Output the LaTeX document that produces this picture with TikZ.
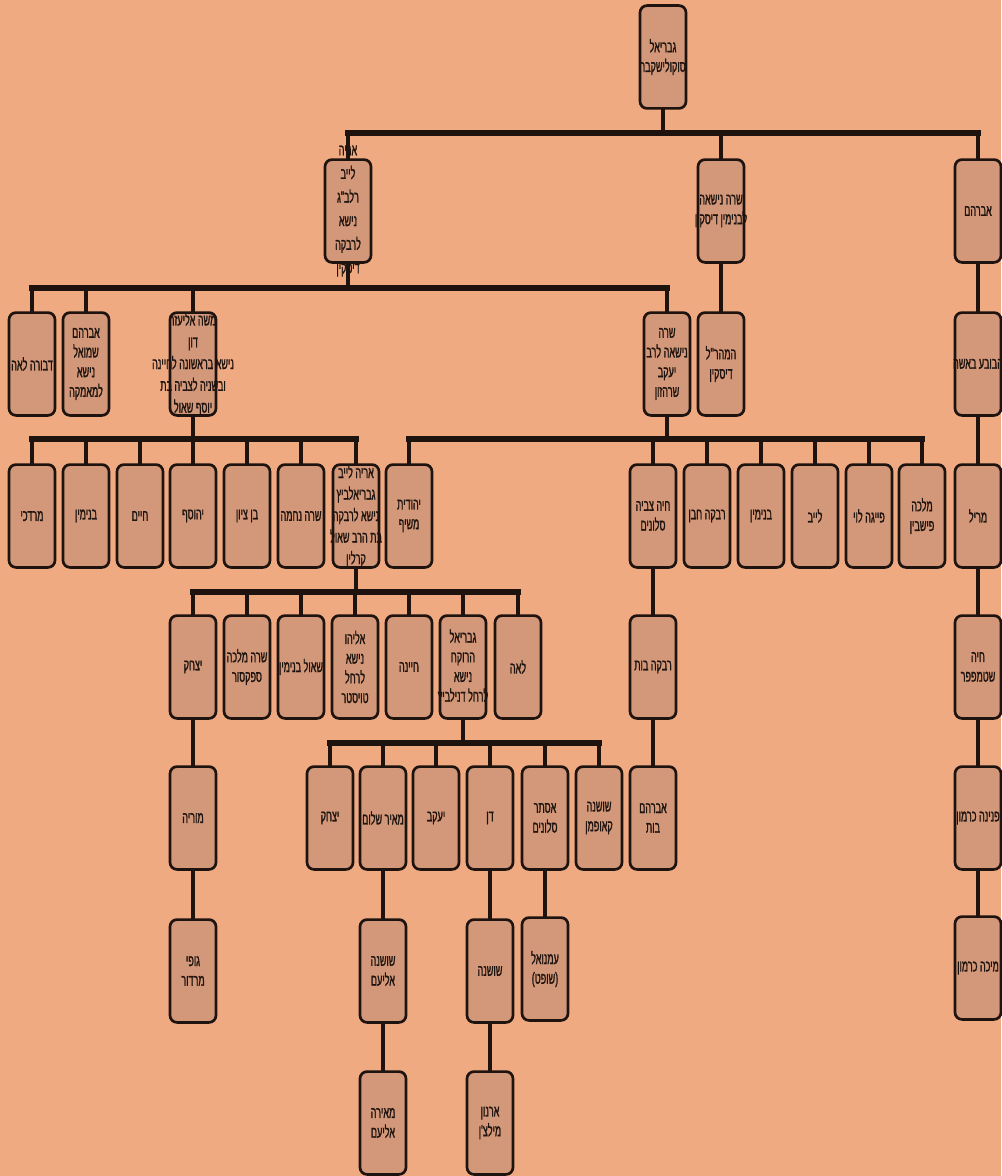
\documentclass[tikz,border=0pt]{standalone}
\usepackage{fontspec}
\usetikzlibrary{backgrounds}
\newfontfamily\hebfont[Script=Hebrew,FakeStretch=0.56,FakeBold=1.3]{Liberation Sans}
\TeXXeTstate=1
\definecolor{paper}{RGB}{239,170,130}
\definecolor{boxfill}{RGB}{210,152,121}
\definecolor{ink}{RGB}{30,19,14}
\tikzset{
  box/.style={draw=ink, line width=1.9pt, rounded corners=5pt, fill=boxfill,
    minimum width=1.15cm, minimum height=2.57cm, inner sep=0pt},
  txt/.style={font=\hebfont\fontsize{11.5}{14}\selectfont, text=ink,
    align=center, inner sep=0pt},
  txtwide/.style={txt, font=\hebfont\fontsize{11.5}{16.8}\selectfont},
  bus/.style={draw=ink, line width=4.2pt, line cap=rect},
  stem/.style={draw=ink, line width=2.8pt, line cap=rect},
}

\begin{document}
\begin{tikzpicture}[x=0.025cm, y=-0.025cm]
  \begin{scope}[on background layer]
    \fill[paper] (0,0) rectangle (1001,1176);
  \end{scope}
  \useasboundingbox (0,0) rectangle (1001,1176);

  % generation 0 and 1
  \node[box, label={[txt]center:{\beginR גבריאל\endR\\\beginR סוקולישקבר\endR}}] (root) at (663,57) {};
  \node[box, label={[txtwide]center:{\beginR אריה\endR\\\beginR לייב\endR\\\beginR רלב"ג\endR\\\beginR נישא\endR\\\beginR לרבקה\endR\\\beginR דיסקין\endR}}] (aryeh) at (348,211) {};
  \node[box, label={[txt]center:{\beginR שרה נישאה\endR\\\beginR לבנימין דיסקין\endR}}] (sarahD) at (721,211) {};
  \node[box, label={[txt]center:{\beginR אברהם\endR}}] (avr) at (978,211) {};

  % generation 2
  \node[box, label={[txt]center:{\beginR דבורה לאה\endR}}] (dvora) at (32,364) {};
  \node[box, label={[txt]center:{\beginR אברהם\endR\\\beginR שמואל\endR\\\beginR נישא\endR\\\beginR למאמקה\endR}}] (avrsh) at (86,364) {};
  \node[box, label={[txt, font=\hebfont\fontsize{11.5}{15.5}\selectfont]center:{\beginR משה אליעזר\endR\\\beginR דון\endR\\\beginR נישא בראשונה לחיינה\endR\\\beginR ובשניה לצביה בת\endR\\\beginR יוסף שאול\endR}}] (moshe) at (193,364) {};
  \node[box, label={[txt]center:{\beginR שרה\endR\\\beginR נישאה לרב\endR\\\beginR יעקב\endR\\\beginR שרהזון\endR}}] (sarahS) at (667,364) {};
  \node[box, label={[txt]center:{\beginR המהר"ל\endR\\\beginR דיסקין\endR}}] (maharal) at (721,364) {};
  \node[box, label={[txt]center:{\beginR הבובע באשה\endR}}] (habuva) at (978,364) {};

  % generation 3
  \node[box, label={[txt]center:{\beginR מרדכי\endR}}] (mordechai) at (32,516) {};
  \node[box, label={[txt]center:{\beginR בנימין\endR}}] (binyamin) at (86,516) {};
  \node[box, label={[txt]center:{\beginR חיים\endR}}] (chaim) at (140,516) {};
  \node[box, label={[txt]center:{\beginR יהוסף\endR}}] (yehosef) at (193,516) {};
  \node[box, label={[txt]center:{\beginR בן ציון\endR}}] (bentzion) at (247,516) {};
  \node[box, label={[txt]center:{\beginR שרה נחמה\endR}}] (sarahN) at (301,516) {};
  \node[box, label={[txt, font=\hebfont\fontsize{11.5}{15.3}\selectfont]center:{\beginR אריה לייב\endR\\\beginR גבריאלביץ\endR\\\beginR נישא לרבקה\endR\\\beginR בת הרב שאול\endR\\\beginR קרלין\endR}}] (aryehG) at (356,516) {};
  \node[box, label={[txt]center:{\beginR יהודית\endR\\\beginR משיף\endR}}] (yehudit) at (409,516) {};
  \node[box, label={[txt]center:{\beginR חיה צביה\endR\\\beginR סלונים\endR}}] (chayaT) at (653,516) {};
  \node[box, label={[txt]center:{\beginR רבקה חבן\endR}}] (rivkaC) at (707,516) {};
  \node[box, label={[txt]center:{\beginR בנימין\endR}}] (binyaminB) at (761,516) {};
  \node[box, label={[txt]center:{\beginR לייב\endR}}] (leib) at (815,516) {};
  \node[box, label={[txt]center:{\beginR פייגה לוי\endR}}] (feiga) at (869,516) {};
  \node[box, label={[txt]center:{\beginR מלכה\endR\\\beginR פישבין\endR}}] (malka) at (922,516) {};
  \node[box, label={[txt]center:{\beginR מריל\endR}}] (miril) at (978,516) {};

  % generation 4
  \node[box, label={[txt]center:{\beginR יצחק\endR}}] (yitzchak) at (193,667) {};
  \node[box, label={[txt]center:{\beginR שרה מלכה\endR\\\beginR ספקסור\endR}}] (sarahM) at (247,667) {};
  \node[box, label={[txt]center:{\beginR שאול בנימין\endR}}] (shaul) at (301,667) {};
  \node[box, label={[txt]center:{\beginR אליהו\endR\\\beginR נישא\endR\\\beginR לרחל\endR\\\beginR טויסטר\endR}}] (eliyahu) at (355,667) {};
  \node[box, label={[txt]center:{\beginR חיינה\endR}}] (chayna) at (409,667) {};
  \node[box, label={[txt]center:{\beginR גבריאל\endR\\\beginR הרוקח\endR\\\beginR נישא\endR\\\beginR לרחל דנילביץ\endR}}] (gavrielH) at (463,667) {};
  \node[box, label={[txt]center:{\beginR לאה\endR}}] (leah) at (518,667) {};
  \node[box, label={[txt]center:{\beginR רבקה בות\endR}}] (rivkaB) at (653,667) {};
  \node[box, label={[txt]center:{\beginR חיה\endR\\\beginR שטמפפר\endR}}] (chayaS) at (978,667) {};

  % generation 5
  \node[box, label={[txt]center:{\beginR מוריה\endR}}] (moriya) at (193,818) {};
  \node[box, label={[txt]center:{\beginR יצחק\endR}}] (yitzchakB) at (330,818) {};
  \node[box, label={[txt]center:{\beginR מאיר שלום\endR}}] (meir) at (383,818) {};
  \node[box, label={[txt]center:{\beginR יעקב\endR}}] (yaakov) at (436,818) {};
  \node[box, label={[txt]center:{\beginR דן\endR}}] (dan) at (490,818) {};
  \node[box, label={[txt]center:{\beginR אסתר\endR\\\beginR סלונים\endR}}] (ester) at (545,818) {};
  \node[box, label={[txt]center:{\beginR שושנה\endR\\\beginR קאופמן\endR}}] (shoshanaK) at (599,818) {};
  \node[box, label={[txt]center:{\beginR אברהם\endR\\\beginR בות\endR}}] (avrB) at (653,818) {};
  \node[box, label={[txt]center:{\beginR פנינה כרמון\endR}}] (pnina) at (978,818) {};

  % generation 6 and 7
  \node[box, label={[txt]center:{\beginR גופי\endR\\\beginR מרדור\endR}}] (gofi) at (193,971) {};
  \node[box, label={[txt]center:{\beginR שושנה\endR\\\beginR אליעם\endR}}] (shoshanaE) at (383,971) {};
  \node[box, label={[txt]center:{\beginR שושנה\endR}}] (shoshana) at (490,971) {};
  \node[box, label={[txt]center:{\beginR עמנואל\endR\\\beginR (שופט)\endR}}] (imanuel) at (545,969) {};
  \node[box, label={[txt]center:{\beginR מיכה כרמון\endR}}] (micha) at (978,968) {};
  \node[box, label={[txt]center:{\beginR מאירה\endR\\\beginR אליעם\endR}}] (meira) at (383,1123) {};
  \node[box, label={[txt]center:{\beginR ארנון\endR\\\beginR מילצ'ן\endR}}] (arnon) at (490,1123) {};

  % junctions on the bars
  \coordinate (j0) at (663,133);
  \coordinate (j1) at (348,288);
  \coordinate (j2) at (193,439);
  \coordinate (j3) at (667,439);
  \coordinate (j4) at (356,592);
  \coordinate (j5) at (463,743);

  \begin{scope}[on background layer]
    \draw[stem] (root) -- (j0);
    \draw[bus] (aryeh |- j0) -- (avr |- j0);
    \foreach \c in {aryeh,sarahD,avr} \draw[stem] (\c) -- (\c |- j0);

    \draw[stem] (aryeh) -- (j1);
    \draw[bus] (dvora |- j1) -- (sarahS |- j1);
    \foreach \c in {dvora,avrsh,moshe,sarahS} \draw[stem] (\c) -- (\c |- j1);

    \draw[stem] (moshe) -- (j2);
    \draw[bus] (mordechai |- j2) -- (aryehG |- j2);
    \foreach \c in {mordechai,binyamin,chaim,yehosef,bentzion,sarahN,aryehG}
      \draw[stem] (\c) -- (\c |- j2);

    \draw[stem] (sarahS) -- (j3);
    \draw[bus] (yehudit |- j3) -- (malka |- j3);
    \foreach \c in {yehudit,chayaT,rivkaC,binyaminB,leib,feiga,malka}
      \draw[stem] (\c) -- (\c |- j3);

    \draw[stem] (aryehG) -- (j4);
    \draw[bus] (yitzchak |- j4) -- (leah |- j4);
    \foreach \c in {yitzchak,sarahM,shaul,eliyahu,chayna,gavrielH,leah}
      \draw[stem] (\c) -- (\c |- j4);

    \draw[stem] (gavrielH) -- (j5);
    \draw[bus] (yitzchakB |- j5) -- (shoshanaK |- j5);
    \foreach \c in {yitzchakB,meir,yaakov,dan,ester,shoshanaK}
      \draw[stem] (\c) -- (\c |- j5);

    % single lines of descent
    \foreach \a/\b in {sarahD/maharal, avr/habuva, habuva/miril, miril/chayaS,
        chayaS/pnina, pnina/micha, chayaT/rivkaB, rivkaB/avrB, yitzchak/moriya,
        moriya/gofi, meir/shoshanaE, shoshanaE/meira, dan/shoshana,
        shoshana/arnon, ester/imanuel}
      \draw[stem] (\a) -- (\b);
  \end{scope}
\end{tikzpicture}
\end{document}
